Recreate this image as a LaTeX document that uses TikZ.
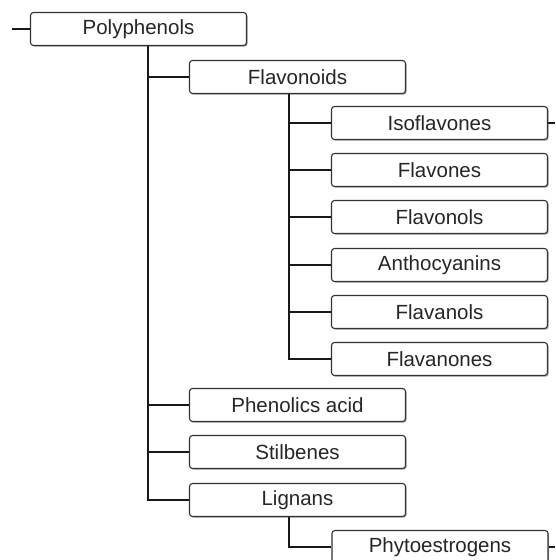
\documentclass[tikz,border=0pt]{standalone}
\usepackage{fontspec}
\setmainfont{Liberation Sans}
\usetikzlibrary{shadows}

\tikzset{
  classbox/.style={draw=black!80, line width=1.1pt, rounded corners=3pt, fill=white,
    minimum width=216pt, minimum height=33pt, inner sep=0pt,
    font=\fontsize{20.5}{22}\selectfont, text=black!85,
    drop shadow={shadow xshift=1.2pt, shadow yshift=-1.2pt, fill=black!35, opacity=1}},
  branch/.style={line width=1.3pt, draw=black!90}
}

\begin{document}
\begin{tikzpicture}[x=1pt,y=-1pt]
    \useasboundingbox (0,0) rectangle (555,560);

    % Top level
    \node[classbox] (poly) at (138.5,29) {Polyphenols};
    \node[classbox] (flav) at (297.5,77) {Flavonoids};

    % Flavonoid sub-classes
    \node[classbox] (iso)   at (439.5,123) {Isoflavones};
    \node[classbox] (flavo) at (439.5,170) {Flavones};
    \node[classbox] (flol)  at (439.5,217) {Flavonols};
    \node[classbox] (anth)  at (439.5,265) {Anthocyanins};
    \node[classbox] (flal)  at (439.5,312) {Flavanols};
    \node[classbox] (flan)  at (439.5,359) {Flavanones};

    % Other classes
    \node[classbox] (phen) at (297.5,405) {Phenolics acid};
    \node[classbox] (stil) at (297.5,452) {Stilbenes};
    \node[classbox] (lign) at (297.5,500) {Lignans};
    \node[classbox] (phyt) at (440,547) {Phytoestrogens};

    % Trunks
    \coordinate (trunk) at (148,0);
    \coordinate (subtrunk) at (289,0);
    \coordinate (instub) at (12,29);
    \coordinate (isostub) at (555,123);
    \coordinate (phytstub) at (555,547);

    % Connectors
    \draw[branch] (instub) -- (poly.west);
    \draw[branch] (trunk |- poly.south) -- (trunk |- lign.west) -- (lign.west);
    \foreach \n in {flav, phen, stil}
        \draw[branch] (trunk |- \n.west) -- (\n.west);

    \draw[branch] (subtrunk |- flav.south) -- (subtrunk |- flan.west) -- (flan.west);
    \foreach \n in {iso, flavo, flol, anth, flal}
        \draw[branch] (subtrunk |- \n.west) -- (\n.west);

    \draw[branch] (subtrunk |- lign.south) -- (subtrunk |- phyt.west) -- (phyt.west);
    \draw[branch] (iso.east) -- (isostub);
    \draw[branch] (phyt.east) -- (phytstub);
\end{tikzpicture}
\end{document}
